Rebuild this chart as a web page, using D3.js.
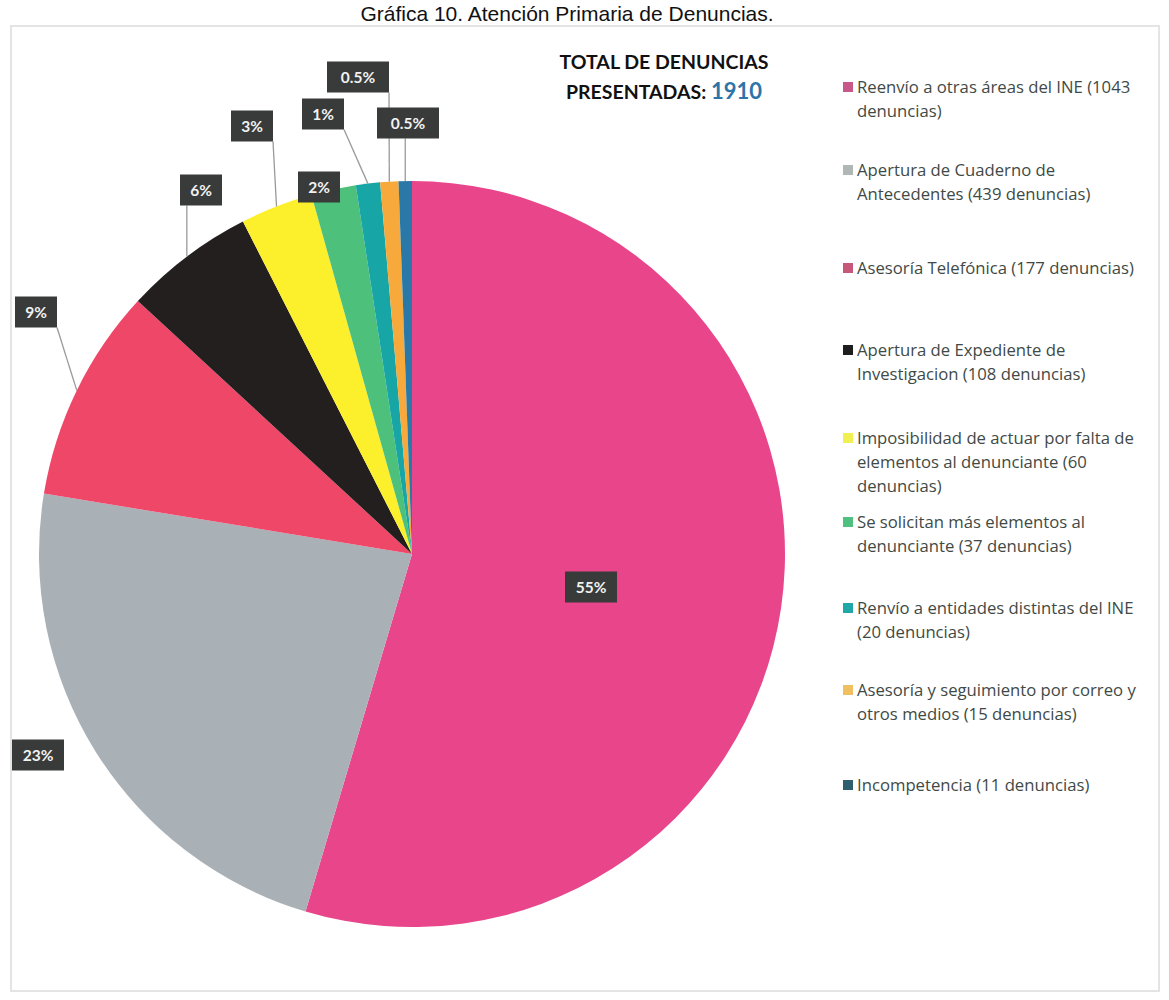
<!DOCTYPE html>
<html lang="es">
<head>
<meta charset="UTF-8">
<script src="https://d3js.org/d3.v7.min.js"></script>
<title>Atención Primaria de Denuncias</title>
<style>
    body { margin: 0; background: #fff; }
    svg { display: block; }
    .legend text { font-family: "Open Sans", Lato, sans-serif; font-size: 16.7px; fill: #3f4a46; }
    .plabel text { font-family: Lato, "Open Sans", sans-serif; font-weight: bold; font-size: 15.5px; fill: #f2f2f2; }
</style>
</head>
<body>
<div id="chart"></div>
<script>
    // data
    const categories = [
        "Reenvío a otras áreas del INE (1043 denuncias)",
        "Apertura de Cuaderno de Antecedentes (439 denuncias)",
        "Asesoría Telefónica (177 denuncias)",
        "Apertura de Expediente de Investigacion (108 denuncias)",
        "Imposibilidad de actuar por falta de elementos al denunciante (60 denuncias)",
        "Se solicitan más elementos al denunciante (37 denuncias)",
        "Renvío a entidades distintas del INE (20 denuncias)",
        "Asesoría y seguimiento por correo y otros medios (15 denuncias)",
        "Incompetencia (11 denuncias)"
    ];
    const counts = [1043, 439, 177, 108, 60, 37, 20, 15, 11];
    const pctLabels = ["55%", "23%", "9%", "6%", "3%", "2%", "1%", "0.5%", "0.5%"];
    // legend text, broken into lines as in the original
    const legendLines = [
        ["Reenvío a otras áreas del INE (1043", "denuncias)"],
        ["Apertura de Cuaderno de", "Antecedentes (439 denuncias)"],
        ["Asesoría Telefónica (177 denuncias)"],
        ["Apertura de Expediente de", "Investigacion (108 denuncias)"],
        ["Imposibilidad de actuar por falta de", "elementos al denunciante (60", "denuncias)"],
        ["Se solicitan más elementos al", "denunciante (37 denuncias)"],
        ["Renvío a entidades distintas del INE", "(20 denuncias)"],
        ["Asesoría y seguimiento por correo y", "otros medios (15 denuncias)"],
        ["Incompetencia (11 denuncias)"]
    ];
    const total = 1910;

    const colors = ["#e8458b", "#a9b0b6", "#ef4768", "#231f1f", "#fcf02c", "#4dc07b", "#17a5a5", "#f7a93b", "#2a78a8"];
    const legendColors = ["#c8588a", "#b0b6b6", "#c8587a", "#1e1e1e", "#f0f050", "#50c080", "#20a8a8", "#f0c060", "#2f5f6e"];

    // layout (label box centres, legend rows)
    const labelPos = [[591, 587], [38, 755], [36, 312], [201, 190], [252, 126], [319, 187], [323, 114], [358, 77], [408, 123]];
    const leader = [false, false, true, true, true, false, true, true, true];
    const legendY = [87, 170, 268, 350, 438, 522, 608, 690, 785];

    const width = 1169, height = 1000;
    const cx = 412, cy = 554, radius = 373;
    const boxW = s => s.length * 10 + 22, boxH = 31;

    const svg = d3.select("#chart").append("svg")
        .attr("width", width)
        .attr("height", height);

    // faint frame of the scanned page
    svg.append("rect")
        .attr("x", 11).attr("y", 26)
        .attr("width", 1148).attr("height", 965)
        .attr("fill", "none")
        .attr("stroke", "#e4e4e4")
        .attr("stroke-width", 2);

    // title
    svg.append("text")
        .attr("x", 567).attr("y", 21)
        .attr("text-anchor", "middle")
        .style("font-family", "Liberation Sans, Arial, sans-serif")
        .style("font-size", "21px")
        .attr("fill", "#111")
        .text("Gráfica 10. Atención Primaria de Denuncias.");

    const pie = d3.pie().sort(null).value(d => d);
    const arcs = pie(counts);
    const arc = d3.arc().innerRadius(0).outerRadius(radius);

    const g = svg.append("g").attr("transform", `translate(${cx},${cy})`);

    g.selectAll("path")
        .data(arcs)
        .enter()
        .append("path")
        .attr("d", arc)
        .attr("fill", (d, i) => colors[i]);

    // leader lines
    arcs.forEach((d, i) => {
        if (!leader[i]) return;
        const a = (d.startAngle + d.endAngle) / 2;
        const ex = cx + radius * Math.sin(a), ey = cy - radius * Math.cos(a);
        const bw = boxW(pctLabels[i]);
        const [lx, ly] = labelPos[i];
        const sx = Math.max(lx - bw / 2, Math.min(lx + bw / 2, ex));
        svg.append("line")
            .attr("x1", sx).attr("y1", ly + boxH / 2)
            .attr("x2", ex).attr("y2", ey)
            .attr("stroke", "#9a9a9a")
            .attr("stroke-width", 1.3);
    });

    // percentage boxes
    const lab = svg.selectAll(".plabel")
        .data(arcs)
        .enter()
        .append("g")
        .attr("class", "plabel")
        .attr("transform", (d, i) => `translate(${labelPos[i][0]},${labelPos[i][1]})`);

    lab.append("rect")
        .attr("x", (d, i) => -boxW(pctLabels[i]) / 2)
        .attr("y", -boxH / 2)
        .attr("width", (d, i) => boxW(pctLabels[i]))
        .attr("height", boxH)
        .attr("fill", "#383b3a");

    lab.append("text")
        .attr("text-anchor", "middle")
        .attr("dy", "0.36em")
        .text((d, i) => pctLabels[i]);

    // total
    const tot = svg.append("g")
        .style("font-family", "Lato, 'Open Sans', sans-serif")
        .style("font-weight", "bold");
    tot.append("text")
        .attr("x", 664).attr("y", 69)
        .attr("text-anchor", "middle")
        .style("font-size", "19.5px")
        .attr("fill", "#111")
        .text("TOTAL DE DENUNCIAS");
    const t2 = tot.append("text")
        .attr("x", 664).attr("y", 99)
        .attr("text-anchor", "middle")
        .style("font-size", "19.5px")
        .attr("fill", "#111");
    t2.append("tspan").text("PRESENTADAS: ");
    t2.append("tspan").attr("fill", "#2e74a8").style("font-size", "22px").text(total);

    // legend
    const leg = svg.append("g").attr("class", "legend");
    categories.forEach((c, i) => {
        const row = leg.append("g").attr("transform", `translate(843,${legendY[i]})`);
        row.append("rect")
            .attr("x", 0).attr("y", -5)
            .attr("width", 10).attr("height", 10)
            .attr("fill", legendColors[i]);
        const t = row.append("text");
        legendLines[i].forEach((ln, j) => {
            t.append("tspan")
                .attr("x", 14)
                .attr("y", j * 24)
                .attr("dy", "0.35em")
                .text(ln);
        });
    });
</script>
</body>
</html>
